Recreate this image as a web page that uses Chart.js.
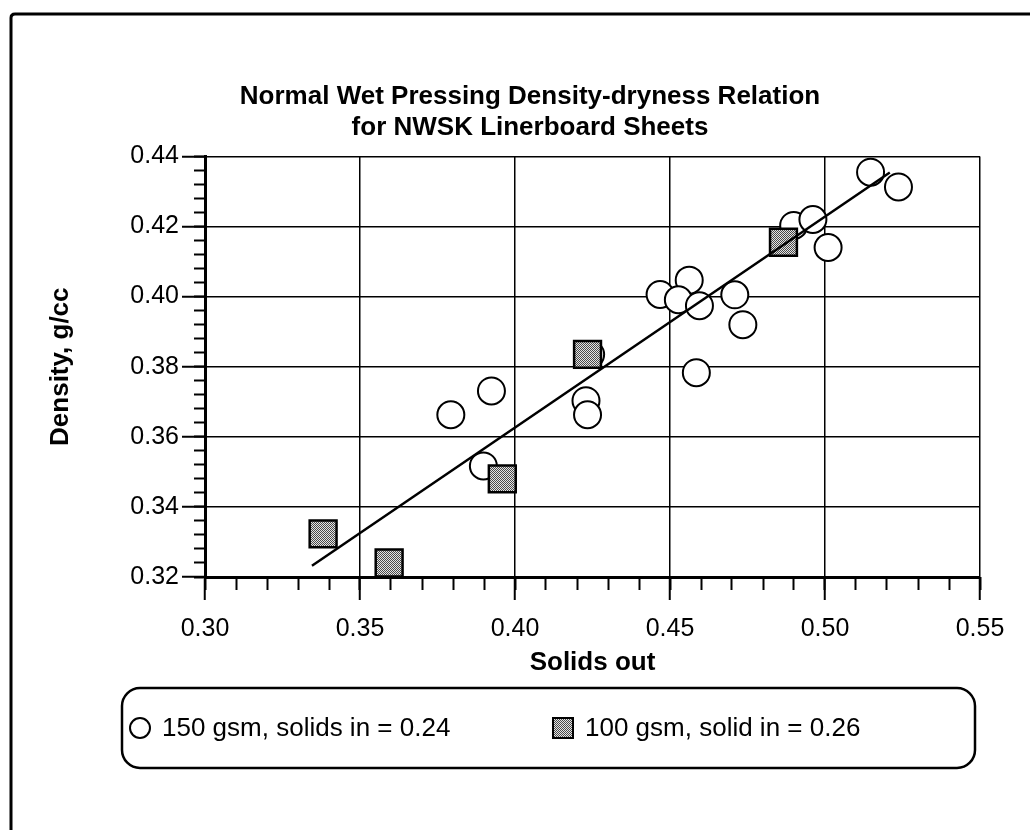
<!DOCTYPE html>
<html>
<head>
<meta charset="utf-8">
<title>Normal Wet Pressing Density-dryness Relation</title>
<script src="https://cdn.jsdelivr.net/npm/chart.js@4.4.1/dist/chart.umd.min.js"></script>
<style>
  html, body { margin: 0; padding: 0; background: #fff; }
  #chart { display: block; }
</style>
</head>
<body>
<canvas id="chart" width="1030" height="830"></canvas>
<script>
// 150 gsm, solids in = 0.24 (open circles)
const circleSolids  = [0.5147, 0.5237, 0.4899, 0.4961, 0.5010, 0.4468, 0.4562, 0.4527, 0.4595,
                       0.4709, 0.4735, 0.4585, 0.4244, 0.4229, 0.4234, 0.3924, 0.3793, 0.3898];
const circleDensity = [0.4355, 0.4313, 0.4203, 0.4220, 0.4140, 0.4006, 0.4047, 0.3991, 0.3974,
                       0.4005, 0.3920, 0.3783, 0.3835, 0.3703, 0.3663, 0.3731, 0.3663, 0.3517];

// 100 gsm, solid in = 0.26 (shaded squares)
const squareSolids  = [0.4866, 0.4234, 0.3959, 0.3381, 0.3594];
const squareDensity = [0.4155, 0.3835, 0.3480, 0.3323, 0.3240];

// fitted line, end points
const fitSolids  = [0.3345, 0.5209];
const fitDensity = [0.3232, 0.4354];

const xTicks = [0.30, 0.35, 0.40, 0.45, 0.50, 0.55];
const yTicks = [0.32, 0.34, 0.36, 0.38, 0.40, 0.42, 0.44];

const titleLines = ['Normal Wet Pressing Density-dryness Relation', 'for NWSK Linerboard Sheets'];
const legendLabels = ['150 gsm, solids in = 0.24', '100 gsm, solid in = 0.26'];

const FONT = "'Liberation Sans', Arial, Helvetica, sans-serif";

const canvas = document.getElementById('chart');
const ctx = canvas.getContext('2d');

// stippled grey fill for the squares
const tile = document.createElement('canvas');
tile.width = 2; tile.height = 2;
const tg = tile.getContext('2d');
tg.fillStyle = '#e4e4e4'; tg.fillRect(0, 0, 2, 2);
tg.fillStyle = '#4a4a4a'; tg.fillRect(0, 0, 1, 1); tg.fillRect(1, 1, 1, 1);
const stipple = ctx.createPattern(tile, 'repeat');

const toPoints = (xs, ys) => xs.map((x, i) => ({x: x, y: ys[i]}));

// outer frame of the figure, and nudge the title a bit right like the original
const frame = {
    id: 'frame',
    afterLayout(chart) {
        chart.titleBlock.left += 18;
        chart.titleBlock.right += 18;
    },
    beforeDraw(chart) {
        const c = chart.ctx;
        c.save();
        c.strokeStyle = '#000';
        c.lineWidth = 3;
        c.beginPath();
        c.moveTo(11, 840);
        c.lineTo(11, 18);
        c.quadraticCurveTo(11, 14, 15, 14);
        c.lineTo(1040, 14);
        c.stroke();
        c.restore();
    }
};

// legend in a rounded box
const legendBox = {
    id: 'legendBox',
    afterDraw(chart) {
        const c = chart.ctx;
        const top = 688, bottom = 768, left = 122, right = 975;
        const midY = (top + bottom) / 2;
        c.save();
        c.strokeStyle = '#000';
        c.lineWidth = 2.5;
        c.beginPath();
        c.roundRect(left, top, right - left, bottom - top, 18);
        c.stroke();

        c.font = '26px ' + FONT;
        c.textBaseline = 'middle';
        c.textAlign = 'left';

        // circle marker
        let x = 130;
        c.beginPath();
        c.arc(x + 10, midY, 10, 0, Math.PI * 2);
        c.fillStyle = '#fff';
        c.fill();
        c.lineWidth = 2;
        c.stroke();
        c.fillStyle = '#000';
        c.fillText(legendLabels[0], x + 32, midY + 1);

        // square marker
        x = 553;
        c.fillStyle = stipple;
        c.fillRect(x, midY - 10, 20, 20);
        c.lineWidth = 2;
        c.strokeRect(x, midY - 10, 20, 20);
        c.fillStyle = '#000';
        c.fillText(legendLabels[1], x + 32, midY + 1);
        c.restore();
    }
};

new Chart(ctx, {
    type: 'scatter',
    data: {
        datasets: [
            {
                label: legendLabels[0],
                data: toPoints(circleSolids, circleDensity),
                pointStyle: 'circle',
                pointRadius: 13.5,
                backgroundColor: '#fff',
                borderColor: '#000',
                borderWidth: 2,
                order: 2
            },
            {
                label: legendLabels[1],
                data: toPoints(squareSolids, squareDensity),
                pointStyle: 'rect',
                pointRadius: 19,
                backgroundColor: stipple,
                borderColor: '#000',
                borderWidth: 2.5,
                order: 1
            },
            {
                type: 'line',
                label: 'fit',
                data: toPoints(fitSolids, fitDensity),
                showLine: true,
                pointRadius: 0,
                borderColor: '#000',
                borderWidth: 2.5,
                fill: false,
                order: 0
            }
        ]
    },
    options: {
        responsive: false,
        animation: false,
        events: [],
        layout: { padding: { top: 81, left: 44, right: 50, bottom: 142 } },
        plugins: {
            legend: { display: false },
            tooltip: { enabled: false },
            title: {
                display: true,
                text: titleLines,
                color: '#000',
                font: { family: FONT, size: 26, weight: 'bold', lineHeight: 1.2 },
                padding: { top: 0, bottom: 13 }
            }
        },
        scales: {
            x: {
                type: 'linear',
                position: 'bottom',
                weight: 1,
                min: 0.30,
                max: 0.55,
                afterBuildTicks: s => { s.ticks = xTicks.map(v => ({value: v})); },
                afterFit: s => { s.height = 111; },
                ticks: {
                    color: '#000',
                    padding: 14,
                    font: { family: FONT, size: 25 },
                    callback: v => v.toFixed(2)
                },
                grid: { color: '#000', lineWidth: 1.5, tickLength: 23, tickWidth: 2 },
                border: { display: true, color: '#000', width: 3 },
                title: {
                    display: true,
                    text: 'Solids out',
                    color: '#000',
                    font: { family: FONT, size: 26, weight: 'bold' },
                    padding: { top: 0, bottom: 10 }
                }
            },
            xMinor: {
                type: 'linear',
                position: 'bottom',
                weight: 0,
                min: 0.30,
                max: 0.55,
                afterFit: s => { s.height = 0; },
                ticks: { display: false, stepSize: 0.01 },
                grid: { drawOnChartArea: false, color: '#000', tickLength: 13, tickWidth: 2 },
                border: { display: false }
            },
            y: {
                type: 'linear',
                position: 'left',
                weight: 1,
                min: 0.32,
                max: 0.44,
                afterBuildTicks: s => { s.ticks = yTicks.map(v => ({value: v})); },
                afterFit: s => { s.width = 161; },
                ticks: {
                    color: '#000',
                    padding: 3,
                    font: { family: FONT, size: 25 },
                    callback: v => v.toFixed(2)
                },
                grid: { color: '#000', lineWidth: 1.5, tickLength: 23, tickWidth: 2 },
                border: { display: true, color: '#000', width: 3 },
                title: {
                    display: true,
                    text: 'Density, g/cc',
                    color: '#000',
                    font: { family: FONT, size: 26, weight: 'bold' },
                    padding: { top: 1, bottom: 0 }
                }
            },
            yMinor: {
                type: 'linear',
                position: 'left',
                weight: 0,
                min: 0.32,
                max: 0.44,
                afterFit: s => { s.width = 0; },
                ticks: { display: false, stepSize: 0.004 },
                grid: { drawOnChartArea: false, color: '#000', tickLength: 11, tickWidth: 2 },
                border: { display: false }
            }
        }
    },
    plugins: [frame, legendBox]
});
</script>
</body>
</html>
